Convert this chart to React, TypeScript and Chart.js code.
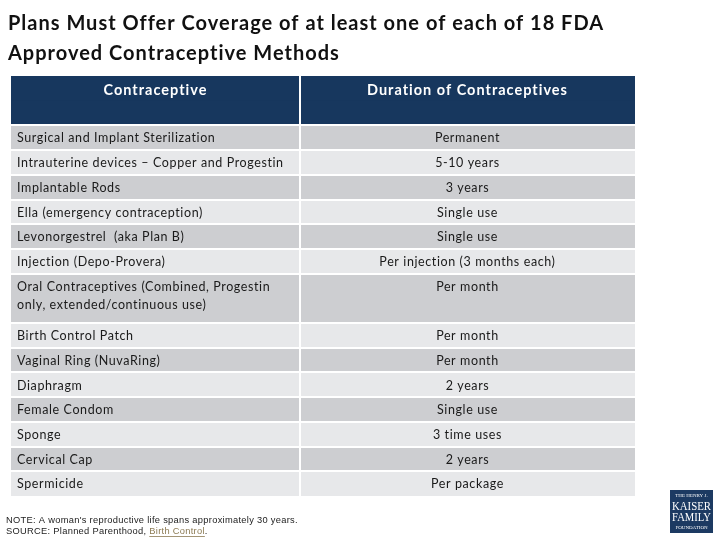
import React, { useEffect, useRef } from "react";
import { Chart, registerables } from "chart.js";

Chart.register(...registerables);

// ---- content ----
const titleLines = [
  "Plans Must Offer Coverage of at least one of each of 18 FDA",
  "Approved Contraceptive Methods",
];
const columnHeaders = ["Contraceptive", "Duration of Contraceptives"];
const methods = [
  "Surgical and Implant Sterilization",
  "Intrauterine devices \u2013 Copper and Progestin",
  "Implantable Rods",
  "Ella (emergency contraception)",
  "Levonorgestrel  (aka Plan B)",
  "Injection (Depo-Provera)",
  "Oral Contraceptives (Combined, Progestin\nonly, extended/continuous use)",
  "Birth Control Patch",
  "Vaginal Ring (NuvaRing)",
  "Diaphragm",
  "Female Condom",
  "Sponge",
  "Cervical Cap",
  "Spermicide",
];
const durations = [
  "Permanent",
  "5-10 years",
  "3 years",
  "Single use",
  "Single use",
  "Per injection (3 months each)",
  "Per month",
  "Per month",
  "Per month",
  "2 years",
  "Single use",
  "3 time uses",
  "2 years",
  "Per package",
];
const noteText = "NOTE: A woman's reproductive life spans approximately 30 years.";
const sourcePrefix = "SOURCE: Planned Parenthood, ";
const sourceLink = "Birth Control";
const sourceSuffix = ".";
const logoLines = ["THE HENRY J.", "KAISER", "FAMILY", "FOUNDATION"];

// ---- layout / style constants ----
const SPLIT = 0.463; // column divider as a fraction of table width
const HEADER_SLOTS = 2;
const NAVY = "#17375e";
const DARK_ROW = "#cdced1";
const LIGHT_ROW = "#e7e8ea";
const TEXT = "#1a1a1a";
const CELL_FONT = "Lato";

type Slot = { row: number; part: number; span: number };
const slots: Slot[] = [];
for (let p = 0; p < HEADER_SLOTS; p++) slots.push({ row: -1, part: p, span: HEADER_SLOTS });
methods.forEach((m, i) => {
  const n = m.split("\n").length;
  for (let p = 0; p < n; p++) slots.push({ row: i, part: p, span: n });
});
const slotLabels = slots.map((s) => `${s.row}:${s.part}`);

const cellColor = (s: Slot) => (s.row < 0 ? NAVY : s.row % 2 === 0 ? DARK_ROW : LIGHT_ROW);

const tableTextPlugin = {
  id: "tableText",
  beforeDraw(chart: any) {
    // slightly open tracking for the title, like the original slide
    chart.ctx.letterSpacing = "1px";
  },
  beforeDatasetsDraw(chart: any) {
    chart.ctx.letterSpacing = "0px";
  },
  afterDraw(chart: any) {
    const { ctx, scales } = chart;
    const x = scales.x;
    const y = scales.y;
    const band = y.getPixelForValue(1) - y.getPixelForValue(0);
    const x0 = x.getPixelForValue(0);
    const xs = x.getPixelForValue(SPLIT);
    const x1 = x.getPixelForValue(1);
    const c1 = (x0 + xs) / 2;
    const c2 = (xs + x1) / 2;
    ctx.save();
    ctx.textBaseline = "middle";
    // header
    const headerTop = y.getPixelForValue(0) - band / 2;
    ctx.fillStyle = "#ffffff";
    ctx.font = `bold 14.5px ${CELL_FONT}`;
    ctx.letterSpacing = "1px";
    ctx.textAlign = "center";
    ctx.fillText(columnHeaders[0], c1, headerTop + 14);
    ctx.fillText(columnHeaders[1], c2, headerTop + 14);
    // rows
    ctx.fillStyle = TEXT;
    ctx.font = `12.5px ${CELL_FONT}`;
    ctx.letterSpacing = "0.6px";
    slots.forEach((s, idx) => {
      if (s.row < 0 || s.part !== 0) return;
      const top = y.getPixelForValue(idx) - band / 2;
      const lines = methods[s.row].split("\n");
      ctx.textAlign = "left";
      lines.forEach((ln, k) => ctx.fillText(ln, x0 + 6, top + 13 + k * 18));
      ctx.textAlign = "center";
      ctx.fillText(durations[s.row], c2, top + 13);
    });

    // footnote
    ctx.textAlign = "left";
    ctx.font = "9.3px 'Liberation Sans'";
    ctx.letterSpacing = "0.3px";
    ctx.fillStyle = "#222222";
    ctx.fillText(noteText, 6, 520);
    ctx.fillText(sourcePrefix, 6, 531.5);
    const w1 = ctx.measureText(sourcePrefix).width;
    ctx.fillStyle = "#8c7b54";
    ctx.fillText(sourceLink, 6 + w1, 531.5);
    const w2 = ctx.measureText(sourceLink).width;
    ctx.fillRect(6 + w1, 536, w2, 0.8);
    ctx.fillStyle = "#222222";
    ctx.fillText(sourceSuffix, 6 + w1 + w2, 531.5);

    // logo
    ctx.letterSpacing = "0px";
    ctx.fillStyle = "#1c3a62";
    ctx.fillRect(670, 490, 43, 43);
    ctx.fillStyle = "#ffffff";
    ctx.textAlign = "center";
    ctx.font = "5px 'Liberation Serif'";
    ctx.fillText(logoLines[0], 691.5, 496, 38);
    ctx.font = "12px 'Liberation Serif'";
    ctx.fillText(logoLines[1], 691.5, 507, 39);
    ctx.fillText(logoLines[2], 691.5, 517.5, 39);
    ctx.font = "5px 'Liberation Serif'";
    ctx.fillText(logoLines[3], 691.5, 528, 38);
    ctx.restore();
  },
};

export default function App() {
  const ref = useRef<HTMLCanvasElement | null>(null);
  useEffect(() => {
    if (!ref.current) return;
    const chart = new Chart(ref.current, {
      type: "bar",
      data: {
        labels: slotLabels,
        datasets: columnHeaders.map((h, col) => ({
          label: h,
          data: slots.map(() => (col === 0 ? [0, SPLIT] : [SPLIT, 1])) as any,
          backgroundColor: (c: any) => {
            const s = slots[c.dataIndex];
            return s ? cellColor(s) : LIGHT_ROW;
          },
          borderWidth: 0,
          inflateAmount: 0.5,
          grouped: false,
          barPercentage: 1,
          categoryPercentage: 1,
        })),
      },
      options: {
        indexAxis: "y",
        animation: false,
        responsive: true,
        maintainAspectRatio: false,
        layout: { padding: { left: 8, right: 85, top: 0, bottom: 44 } },
        scales: {
          x: {
            type: "linear",
            min: 0,
            max: 1,
            display: true,
            border: { display: false },
            ticks: { display: false },
            grid: {
              z: 1,
              offset: false,
              drawTicks: false,
              color: "#ffffff",
              lineWidth: 2,
            },
            afterBuildTicks: (s: any) => {
              s.ticks = [{ value: SPLIT }];
            },
            afterFit: (s: any) => {
              s.height = 0;
            },
          },
          y: {
            type: "category",
            display: true,
            border: { display: false },
            ticks: { display: false },
            grid: {
              z: 1,
              offset: true,
              drawTicks: false,
              lineWidth: 2,
              color: (c: any) => {
                const i = c.index;
                if (i === undefined || i <= 0 || i >= slots.length) return "rgba(0,0,0,0)";
                return slots[i].part === 0 ? "#ffffff" : "rgba(0,0,0,0)";
              },
            },
            afterFit: (s: any) => {
              s.width = 3;
            },
          },
        },
        plugins: {
          legend: { display: false },
          tooltip: { enabled: false },
          title: {
            display: true,
            text: titleLines,
            align: "start",
            color: "#111111",
            font: { family: CELL_FONT, size: 20, weight: "bold", lineHeight: 1.5 },
            padding: { top: 9, bottom: 7 },
          },
        },
      },
      plugins: [tableTextPlugin],
    } as any);
    return () => chart.destroy();
  }, []);
  return (
    <div style={{ position: "fixed", left: 0, top: 0, width: 720, height: 540, background: "#ffffff" }}>
      <canvas ref={ref} />
    </div>
  );
}
